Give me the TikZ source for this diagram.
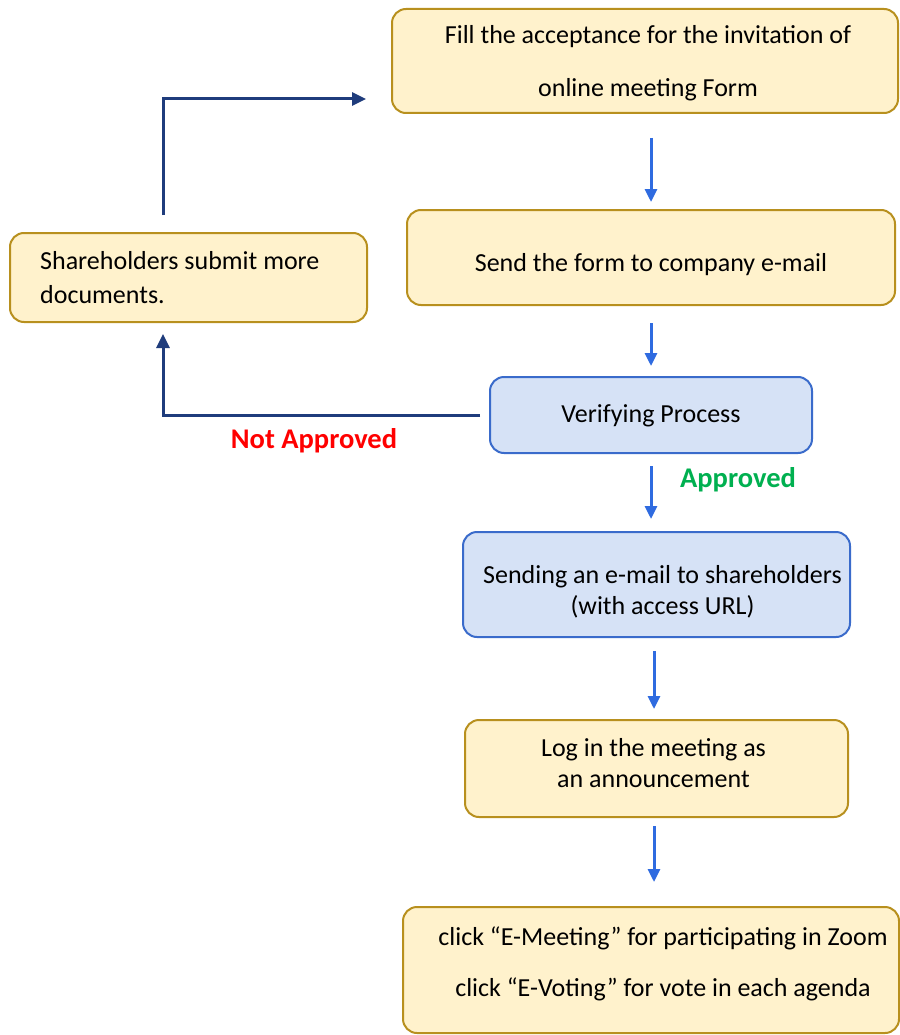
\documentclass[tikz,border=0pt]{standalone}
\usepackage{fontspec}
\setmainfont{Carlito}
\usetikzlibrary{arrows.meta,calc}
\definecolor{yfill}{HTML}{FFF2CC}
\definecolor{ydraw}{HTML}{B8901E}
\definecolor{bfill}{HTML}{D6E2F6}
\definecolor{bdraw}{HTML}{3A6BCB}
\definecolor{arrblue}{HTML}{2F6BE0}
\definecolor{navy}{HTML}{1F3C7C}
\definecolor{nored}{HTML}{FF0000}
\definecolor{okgreen}{HTML}{00B050}
\tikzset{
  ybox/.style={draw=ydraw, fill=yfill, line width=2pt, rounded corners=14pt, inner sep=0pt},
  bbox/.style={draw=bdraw, fill=bfill, line width=2pt, rounded corners=14pt, inner sep=0pt},
  txt/.style={inner sep=0pt, align=center},
  bluearrow/.style={draw=arrblue, line width=3pt, -{Triangle[length=13pt,width=12pt]}},
  navyarrow/.style={draw=navy, line width=3pt, -{Triangle[length=14pt,width=13pt]}},
  lbl/.style={font=\fontsize{28.5}{34}\selectfont\bfseries, inner sep=0pt}
}
\begin{document}
\begin{tikzpicture}[x=1pt,y=-1pt, font=\fontsize{26}{31}\selectfont]
\useasboundingbox (0,0) rectangle (899,1035);
\fill[white] (0,0) rectangle (899,1035);

% boxes
\node[ybox, minimum width=506pt, minimum height=104pt] (fill) at (645,61) {};
\node[ybox, minimum width=488pt, minimum height=95pt] (send) at (651,257.5) {};
\node[ybox, minimum width=357pt, minimum height=89pt] (share) at (188.5,277.5) {};
\node[bbox, minimum width=322pt, minimum height=76pt] (verify) at (651,415) {};
\node[bbox, minimum width=387pt, minimum height=105pt] (sending) at (656.5,584.5) {};
\node[ybox, minimum width=383pt, minimum height=97pt] (login) at (656.5,768.5) {};
\node[ybox, minimum width=496pt, minimum height=126pt] (click) at (651,970) {};

% texts
\node[txt, font=\fontsize{26}{53}\selectfont] (filltext) at ($(fill.center)+(3,2.5)$)
  {Fill the acceptance for the invitation of\\online meeting Form};
\node[txt] (sendtext) at ($(send.center)+(0,7)$) {Send the form to company e-mail};
\node[txt, align=left, anchor=west, font=\fontsize{26}{34}\selectfont] (sharetext) at ($(share.west)+(31,0.5)$)
  {Shareholders submit more\\documents.};
\node[txt] (verifytext) at ($(verify.center)+(0,1)$) {Verifying Process};
\node[txt] (sendingtext) at ($(sending.center)+(6,7.5)$)
  {Sending an e-mail to shareholders\\(with access URL)};
\node[txt] (logintext) at ($(login.center)+(-3,-5)$)
  {Log in the meeting as\\an announcement};
\node[txt, font=\fontsize{26}{51}\selectfont] (clicktext) at ($(click.center)+(12,-6.5)$)
  {click “E-Meeting” for participating in Zoom\\click “E-Voting” for vote in each agenda};

\coordinate (loopx) at (163,0);
\coordinate (fillin) at ($(fill.west)+(-25,38)$);

% main flow arrows
\draw[bluearrow, shorten <=24pt, shorten >=7pt] (fill.south -| send.north) -- (send.north);
\draw[bluearrow, shorten <=17pt, shorten >=10pt] (send.south) -- (verify.north);
\draw[bluearrow, shorten <=12pt, shorten >=12pt] (verify.south) -- (verify.south |- sending.north);
\draw[bluearrow, shorten <=13pt, shorten >=10pt] ($(sending.south)+(-2.5,0)$) -- ($(login.north)+(-2.5,0)$);
\draw[bluearrow, shorten <=8pt, shorten >=24pt] ($(login.south)+(-2.5,0)$) -- ($(login.south |- click.north)+(-2.5,0)$);

% loop arrows
\draw[navyarrow, shorten <=17pt] (share.north -| loopx) |- (fillin);
\draw[navyarrow, shorten <=9pt, shorten >=11pt] (verify.west) -| (share.south -| loopx);

\node[lbl, text=nored] (notok) at (314,441) {Not Approved};
\node[lbl, text=okgreen] (ok) at (738,480) {Approved};
\end{tikzpicture}
\end{document}
